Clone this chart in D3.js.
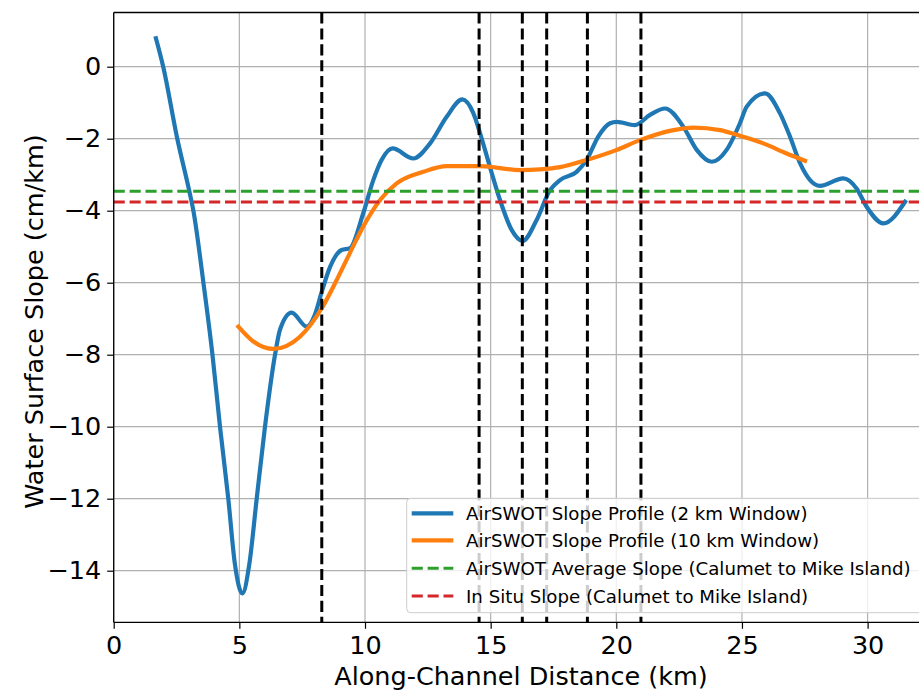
<!DOCTYPE html>
<html>
<head>
<meta charset="utf-8">
<script src="https://cdn.jsdelivr.net/npm/d3@7"></script>
<style>
  html, body { margin: 0; padding: 0; background: #fff; }
  svg { display: block; font-family: "DejaVu Sans", sans-serif; }
</style>
</head>
<body>
<svg id="chart" width="919" height="691"></svg>
<script>
// ---- Data ----
const blueX = [1.68,1.97,2.53,3.01,3.17,3.57,3.93,4.23,4.56,4.82,5.12,5.40,5.69,6.02,6.42,6.62,7.08,7.68,8.00,8.28,8.61,9.07,9.40,9.93,10.33,10.66,11.10,11.92,12.59,13.25,13.87,14.31,14.58,14.97,15.37,15.84,16.27,16.83,17.36,17.76,18.42,18.82,19.28,19.75,20.02,20.74,21.34,21.94,22.67,23.20,23.80,24.39,24.92,25.19,25.92,26.51,26.91,27.31,27.71,28.10,29.03,29.56,29.96,30.63,31.49];
const blueY = [0.79,0.00,-2.00,-3.46,-4.00,-6.00,-8.00,-10.00,-12.00,-13.80,-14.63,-13.80,-12.00,-10.00,-8.00,-7.30,-6.83,-7.22,-6.90,-6.25,-5.56,-5.09,-5.04,-4.07,-3.15,-2.59,-2.27,-2.55,-2.13,-1.39,-0.91,-1.29,-1.85,-2.78,-3.70,-4.54,-4.84,-4.26,-3.43,-3.15,-2.92,-2.59,-1.94,-1.57,-1.53,-1.62,-1.34,-1.16,-1.67,-2.31,-2.64,-2.31,-1.57,-1.11,-0.74,-1.29,-1.94,-2.68,-3.15,-3.31,-3.10,-3.38,-3.89,-4.35,-3.75];

const orangeX = [4.96,5.50,6.35,7.41,8.28,8.94,9.67,9.93,10.60,11.26,12.32,13.25,14.58,16.17,16.97,17.76,18.82,20.02,20.94,22.27,23.06,24.13,24.92,25.85,26.78,27.51];
const orangeY = [-7.22,-7.60,-7.84,-7.50,-6.71,-5.83,-4.79,-4.44,-3.70,-3.24,-2.92,-2.76,-2.76,-2.87,-2.85,-2.79,-2.59,-2.31,-2.04,-1.76,-1.69,-1.76,-1.92,-2.13,-2.41,-2.61];

const avgSlope = -3.46;     // AirSWOT average slope
const inSituSlope = -3.76;  // In situ slope
const verticalMarks = [8.28, 14.54, 16.26, 17.23, 18.85, 20.98];

const xTicks = [0, 5, 10, 15, 20, 25, 30];
const yTicks = [0, -2, -4, -6, -8, -10, -12, -14];

const legendLabels = [
  "AirSWOT Slope Profile (2 km Window)",
  "AirSWOT Slope Profile (10 km Window)",
  "AirSWOT Average Slope (Calumet to Mike Island)",
  "In Situ Slope (Calumet to Mike Island)"
];
const colors = ["#1f77b4", "#ff7f0e", "#2ca02c", "#d62728"];

// ---- Layout ----
const pL = 113.7, pT = 12.5, pB = 622.3, pR = 943;
const svg = d3.select("#chart");

const x = d3.scaleLinear().domain([0, 33]).range([pL, pR]);
const y = d3.scaleLinear().domain([1.506, -15.433]).range([pT, pB]);

svg.append("defs").append("clipPath").attr("id", "plotclip")
  .append("rect").attr("x", pL).attr("y", pT)
  .attr("width", pR - pL).attr("height", pB - pT);

// grid
const grid = svg.append("g");
grid.selectAll(".gx").data(xTicks).enter().append("line")
  .attr("x1", d => x(d)).attr("x2", d => x(d))
  .attr("y1", pT).attr("y2", pB)
  .attr("stroke", "#b0b0b0").attr("stroke-width", 1.2);
grid.selectAll(".gy").data(yTicks).enter().append("line")
  .attr("x1", pL).attr("x2", pR)
  .attr("y1", d => y(d)).attr("y2", d => y(d))
  .attr("stroke", "#b0b0b0").attr("stroke-width", 1.2);

const plot = svg.append("g").attr("clip-path", "url(#plotclip)");

const line = d3.line().x(d => x(d[0])).y(d => y(d[1])).curve(d3.curveMonotoneX);

const blueData = blueX.map((v, i) => [v, blueY[i]]);
const orangeData = orangeX.map((v, i) => [v, orangeY[i]]);

plot.append("path").datum(blueData).attr("d", line)
  .attr("fill", "none").attr("stroke", colors[0]).attr("stroke-width", 4.2)
  .attr("stroke-linecap", "square").attr("stroke-linejoin", "round");
plot.append("path").datum(orangeData).attr("d", line)
  .attr("fill", "none").attr("stroke", colors[1]).attr("stroke-width", 4.2)
  .attr("stroke-linecap", "square").attr("stroke-linejoin", "round");

const dash = "11.1,4.8";
plot.append("line")
  .attr("x1", pL).attr("x2", pR).attr("y1", y(avgSlope)).attr("y2", y(avgSlope))
  .attr("stroke", colors[2]).attr("stroke-width", 3).attr("stroke-dasharray", dash);
plot.append("line")
  .attr("x1", pL).attr("x2", pR).attr("y1", y(inSituSlope)).attr("y2", y(inSituSlope))
  .attr("stroke", colors[3]).attr("stroke-width", 3).attr("stroke-dasharray", dash);

plot.selectAll(".vm").data(verticalMarks).enter().append("line")
  .attr("x1", d => x(d)).attr("x2", d => x(d))
  .attr("y1", pT).attr("y2", pB)
  .attr("stroke", "#000").attr("stroke-width", 3).attr("stroke-dasharray", dash);

// axes
const xAxis = d3.axisBottom(x).tickValues(xTicks).tickSize(6.5).tickPadding(7).tickFormat(d3.format("d"));
const yAxis = d3.axisLeft(y).tickValues(yTicks).tickSize(6.5).tickPadding(6)
  .tickFormat(d => d < 0 ? "\u2212" + Math.abs(d) : String(d));

const gx = svg.append("g").attr("transform", `translate(0,${pB})`).call(xAxis);
const gy = svg.append("g").attr("transform", `translate(${pL},0)`).call(yAxis);
[gx, gy].forEach(g => {
  g.select(".domain").remove();
  g.selectAll(".tick line").attr("stroke", "#000").attr("stroke-width", 1.2);
  g.selectAll(".tick text").attr("fill", "#000")
    .style("font-family", "DejaVu Sans").style("font-size", "25.5px");
});

// spines
svg.append("line").attr("x1", pL).attr("x2", pL).attr("y1", pT).attr("y2", pB)
  .attr("stroke", "#000").attr("stroke-width", 1.3);
svg.append("line").attr("x1", pL).attr("x2", pR).attr("y1", pB).attr("y2", pB)
  .attr("stroke", "#000").attr("stroke-width", 1.3);
svg.append("line").attr("x1", pL).attr("x2", pR).attr("y1", pT).attr("y2", pT)
  .attr("stroke", "#000").attr("stroke-width", 1.3);

// axis labels
svg.append("text").attr("x", 521).attr("y", 685).attr("text-anchor", "middle")
  .style("font-size", "25.5px").attr("fill", "#000")
  .text("Along-Channel Distance (km)");
svg.append("text").attr("transform", "translate(43,321.5) rotate(-90)")
  .attr("text-anchor", "middle").style("font-size", "25.5px").attr("fill", "#000")
  .text("Water Surface Slope (cm/km)");

// legend
const lg = svg.append("g");
lg.append("rect").attr("x", 406.7).attr("y", 498.3).attr("width", 516).attr("height", 114.4)
  .attr("rx", 4).attr("fill", "#fff").attr("fill-opacity", 0.8)
  .attr("stroke", "#cccccc").attr("stroke-width", 1);
const rowY = [513.3, 540.3, 568.3, 596];
legendLabels.forEach((lab, i) => {
  const l = lg.append("line").attr("x1", 411.7).attr("x2", 453.3)
    .attr("y1", rowY[i]).attr("y2", rowY[i]).attr("stroke", colors[i]);
  if (i < 2) l.attr("stroke-width", 4.2);
  else l.attr("stroke-width", 3).attr("stroke-dasharray", dash);
  lg.append("text").attr("x", 466).attr("y", rowY[i]).attr("dy", "0.36em")
    .style("font-size", "18.2px").attr("fill", "#000").text(lab);
});
</script>
</body>
</html>
